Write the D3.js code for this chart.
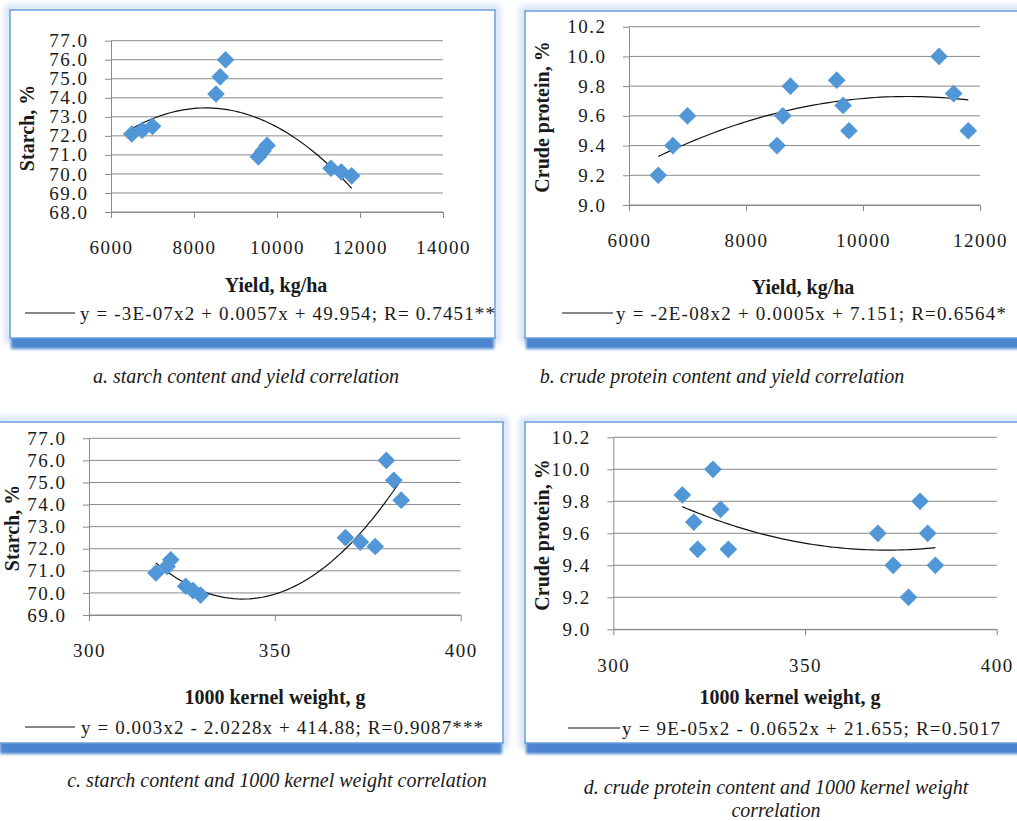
<!DOCTYPE html>
<meta charset="utf-8">
<head>
<style>
    body { margin: 0; background: #fff; }
    svg text { font-family: "Liberation Serif", "Tinos", "Times New Roman", serif !important; fill: #1a1a1a; }
    .tick text { font-size: 19px; letter-spacing: 1.5px; }
    .grid line { stroke: #8a8a8a; stroke-width: 1; }
    .axis path, .axis line { stroke: #8a8a8a; }
    .atitle { font-size: 20px; font-weight: bold; }
    .legend { font-size: 19px; }
    .caption { font-size: 20px; font-style: italic; }
</style>
</head>
<body>
<div class="chart"></div>
<script src="https://d3js.org/d3.v7.min.js"></script>
<script>
// the same 12 samples are plotted in every panel
var yield_kg = [6500, 6750, 7000, 8530, 8630, 8760, 9550, 9660, 9760, 11300, 11550, 11800];
var starch   = [72.1, 72.3, 72.5, 74.2, 75.1, 76.0, 70.9, 71.2, 71.5, 70.3, 70.1, 69.9];
var protein  = [9.2, 9.4, 9.6, 9.4, 9.6, 9.8, 9.84, 9.67, 9.5, 10.0, 9.75, 9.5];
var kernel_w = [377, 373, 369, 384, 382, 380, 318, 321, 322, 326, 328, 330];

// tick labels
var yield_ticks_a = [6000, 8000, 10000, 12000, 14000];
var yield_ticks_b = [6000, 8000, 10000, 12000];
var kernel_ticks = [300, 350, 400];
var starch_ticks_a = [68, 69, 70, 71, 72, 73, 74, 75, 76, 77];
var starch_ticks_c = [69, 70, 71, 72, 73, 74, 75, 76, 77];
var protein_ticks = [9.0, 9.2, 9.4, 9.6, 9.8, 10.0, 10.2];

// texts
var x_titles = ["Yield, kg/ha", "Yield, kg/ha", "1000 kernel weight, g", "1000 kernel weight, g"];
var y_titles = ["Starch, %", "Crude protein, %", "Starch, %", "Crude protein, %"];
var equations = [
    "y = -3E-07x2 + 0.0057x + 49.954; R= 0.7451**",
    "y = -2E-08x2 + 0.0005x + 7.151; R=0.6564*",
    "y = 0.003x2 - 2.0228x + 414.88; R=0.9087***",
    "y = 9E-05x2 - 0.0652x + 21.655; R=0.5017"
];
var captions = [
    ["a. starch content and yield correlation"],
    ["b. crude protein content and yield correlation"],
    ["c. starch content and 1000 kernel weight correlation"],
    ["d. crude protein content and 1000 kernel weight", "correlation"]
];

var W = 1017, H = 821;

var panels = [
    {xs: yield_kg, ys: starch, xticks: yield_ticks_a, yticks: starch_ticks_a,
     frame: {x: 10, y: 10, w: 485, h: 328}, plot: {l: 111, r: 443, t: 40.7, b: 212},
     yt: {x: 27, y: 128}, xt: {x: 276, y: 285},
     leg: {x1: 25, x2: 75, y: 313, tx: 80, tw: 415}, cap: {x: 246, y: 376}},
    {xs: yield_kg, ys: protein, xticks: yield_ticks_b, yticks: protein_ticks,
     frame: {x: 525, y: 11, w: 520, h: 327}, plot: {l: 629, r: 980, t: 26.7, b: 205},
     yt: {x: 542, y: 117}, xt: {x: 803, y: 287},
     leg: {x1: 562, x2: 613, y: 313, tx: 616, tw: 390}, cap: {x: 722, y: 376}},
    {xs: kernel_w, ys: starch, xticks: kernel_ticks, yticks: starch_ticks_c,
     frame: {x: -1, y: 422, w: 504, h: 321}, plot: {l: 89, r: 460.7, t: 438.3, b: 615},
     yt: {x: 12, y: 528}, xt: {x: 275, y: 697},
     leg: {x1: 25, x2: 75, y: 727, tx: 81, tw: 402}, cap: {x: 277, y: 780}},
    {xs: kernel_w, ys: protein, xticks: kernel_ticks, yticks: protein_ticks,
     frame: {x: 525, y: 422, w: 520, h: 321}, plot: {l: 613.3, r: 996.7, t: 437.3, b: 629.3},
     yt: {x: 542, y: 535}, xt: {x: 790, y: 697},
     leg: {x1: 568, x2: 620, y: 728, tx: 622, tw: 378}, cap: {x: 776, y: 787}}
];

var svg = d3.select(".chart").append("svg")
    .attr("width", W)
    .attr("height", H);

var defs = svg.append("defs");
defs.append("filter").attr("id", "blur3")
    .attr("x", "-10%").attr("y", "-50%").attr("width", "120%").attr("height", "200%")
    .append("feGaussianBlur").attr("stdDeviation", 3);
defs.append("filter").attr("id", "blur2")
    .attr("x", "-10%").attr("y", "-50%").attr("width", "120%").attr("height", "200%")
    .append("feGaussianBlur").attr("stdDeviation", 1.8);

// least squares 2nd order polynomial, like the excel trendline
function quad_fit(xs, ys) {
    var m = d3.mean(xs);
    var s = [0, 0, 0, 0, 0], t = [0, 0, 0];
    xs.forEach(function (x, i) {
        var u = x - m;
        for (var k = 0; k < 5; k++) s[k] += Math.pow(u, k);
        for (var k = 0; k < 3; k++) t[k] += ys[i] * Math.pow(u, k);
    });
    var A = [[s[0], s[1], s[2], t[0]], [s[1], s[2], s[3], t[1]], [s[2], s[3], s[4], t[2]]];
    for (var i = 0; i < 3; i++) {
        for (var j = i + 1; j < 3; j++) {
            var f = A[j][i] / A[i][i];
            for (var k = i; k < 4; k++) A[j][k] -= f * A[i][k];
        }
    }
    var c = [0, 0, 0];
    for (var i = 2; i >= 0; i--) {
        var v = A[i][3];
        for (var k = i + 1; k < 3; k++) v -= A[i][k] * c[k];
        c[i] = v / A[i][i];
    }
    return function (x) { var u = x - m; return c[0] + c[1] * u + c[2] * u * u; };
}

panels.forEach(function (p, n) {
    var g = svg.append("g");
    var f = p.frame;

    // frame with blue shadow
    g.append("rect")
        .attr("x", f.x - 2).attr("y", f.y - 2).attr("width", f.w + 4).attr("height", f.h + 4)
        .style("fill", "none").style("stroke", "#c5d9f1").style("stroke-width", 5)
        .attr("filter", "url(#blur3)");
    g.append("rect")
        .attr("x", f.x + 1).attr("y", f.y + f.h - 3).attr("width", f.w - 2).attr("height", 14)
        .style("fill", "#4b85cf")
        .attr("filter", "url(#blur2)");
    g.append("rect")
        .attr("x", f.x).attr("y", f.y).attr("width", f.w).attr("height", f.h)
        .style("fill", "#ffffff").style("stroke", "#6b9edb").style("stroke-width", 1.5);

    var x = d3.scaleLinear()
        .domain(d3.extent(p.xticks))
        .range([p.plot.l, p.plot.r]);
    var y = d3.scaleLinear()
        .domain(d3.extent(p.yticks))
        .range([p.plot.b, p.plot.t]);

    g.append("g").attr("class", "grid")
        .selectAll("line").data(p.yticks).enter().append("line")
        .attr("x1", p.plot.l).attr("x2", p.plot.r)
        .attr("y1", function (d) { return y(d); })
        .attr("y2", function (d) { return y(d); });

    g.append("g").attr("class", "axis")
        .attr("transform", "translate(" + p.plot.l + ",0)")
        .call(d3.axisLeft(y).tickValues(p.yticks).tickFormat(d3.format(".1f"))
            .tickSizeInner(6).tickSizeOuter(0).tickPadding(16.5))
        .attr("font-family", null).attr("font-size", null);

    g.append("g").attr("class", "axis")
        .attr("transform", "translate(0," + p.plot.b + ")")
        .call(d3.axisBottom(x).tickValues(p.xticks).tickFormat(d3.format("d"))
            .tickSizeInner(6).tickSizeOuter(0).tickPadding(23))
        .attr("font-family", null).attr("font-size", null);

    // trendline over the data range
    var fit = quad_fit(p.xs, p.ys);
    var xr = d3.extent(p.xs);
    var line_x = d3.range(61).map(function (i) { return xr[0] + (xr[1] - xr[0]) * i / 60; });
    g.append("path")
        .datum(line_x)
        .attr("d", d3.line()
            .x(function (d) { return x(d); })
            .y(function (d) { return y(fit(d)); }))
        .style("fill", "none").style("stroke", "#111").style("stroke-width", 1.2);

    // points
    g.selectAll(".pt").data(p.xs).enter().append("path")
        .attr("class", "pt")
        .attr("d", d3.symbol(d3.symbolSquare, 156))
        .attr("transform", function (d, i) {
            return "translate(" + x(d) + "," + y(p.ys[i]) + ") rotate(45)";
        })
        .style("fill", "#5196d6");

    // axis titles
    g.append("text").attr("class", "atitle")
        .attr("transform", "translate(" + p.yt.x + "," + p.yt.y + ") rotate(-90)")
        .attr("text-anchor", "middle").attr("dy", "0.35em")
        .text(y_titles[n]);
    g.append("text").attr("class", "atitle")
        .attr("x", p.xt.x).attr("y", p.xt.y)
        .attr("text-anchor", "middle").attr("dy", "0.35em")
        .text(x_titles[n]);

    // legend
    g.append("line")
        .attr("x1", p.leg.x1).attr("x2", p.leg.x2)
        .attr("y1", p.leg.y).attr("y2", p.leg.y)
        .style("stroke", "#111").style("stroke-width", 1.2);
    g.append("text").attr("class", "legend")
        .attr("x", p.leg.tx).attr("y", p.leg.y).attr("dy", "0.35em")
        .attr("textLength", p.leg.tw).attr("lengthAdjust", "spacing")
        .text(equations[n]);

    // caption under the panel
    g.append("g").selectAll("text").data(captions[n]).enter().append("text")
        .attr("class", "caption")
        .attr("x", p.cap.x)
        .attr("y", function (d, i) { return p.cap.y + i * 23; })
        .attr("dy", "0.35em")
        .attr("text-anchor", "middle")
        .text(function (d) { return d; });
});
</script>
</body>
